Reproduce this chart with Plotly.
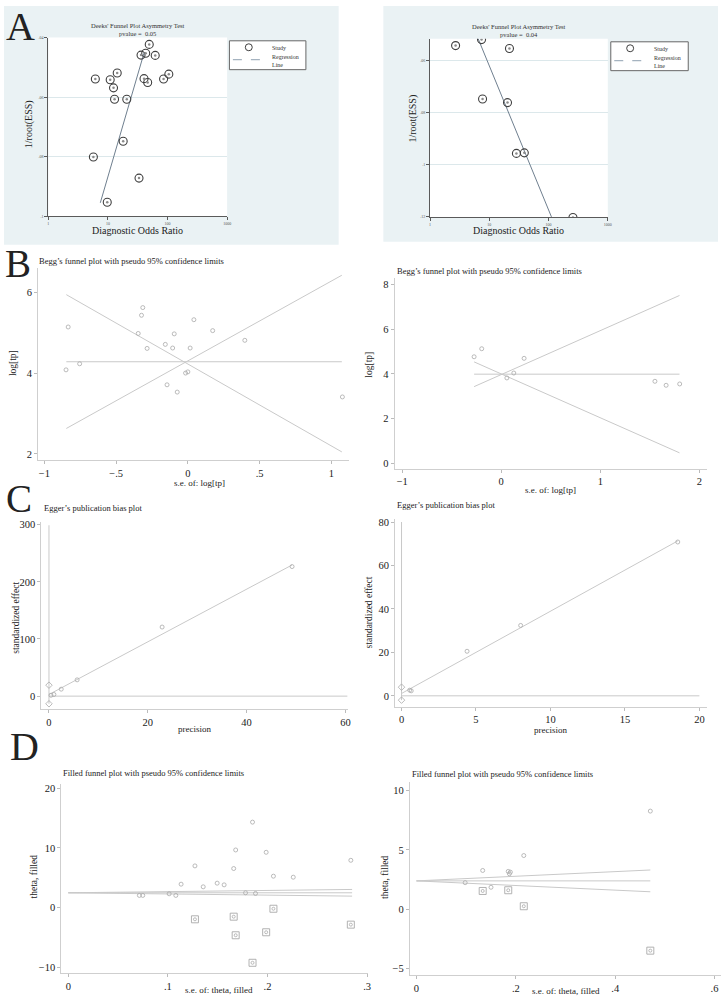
import plotly.graph_objects as go

W, H = 728, 1000
SERIF = "Liberation Serif, Times New Roman, serif"

# ---------------- DATA ----------------
# A left: Deeks' funnel plot (DOR vs 1/root(ESS))
a1_dor = [49.3, 43.0, 35.9, 62.1, 14.3, 105, 6.14, 10.9, 40.3, 46.4, 85.8, 12.4, 12.9, 20.7, 18.0, 5.69, 33.2, 9.73]
a1_ess = [.0423, .0453, .0459, .0460, .0519, .0523, .0539, .0542, .0538, .0551, .0539, .0569, .0607, .0607, .0748, .0801, .0872, .0953]
a1_reg_dor = [7.44, 40.7]
a1_reg_ess = [.0955, .0449]
a1_pvalue = "0.05"

# A right
a2_dor = [2.7, 7.4, 21.9, 7.7, 20.3, 28.7, 39.0, 258]
a2_ess = [.0542, .0519, .0553, .0747, .0761, .0956, .0954, .1202]
a2_reg_dor = [6.5, 112]
a2_reg_ess = [.0516, .120]
a2_pvalue = "0.04"

a_xticks = [1, 10, 100, 1000]
a_xticktext = ["1", "10", "100", "1000"]
a1_yticks = [.04, .06, .08, .1]
a1_yticktext = [".04", ".06", ".08", ".1"]
a2_yticks = [.06, .08, .1, .12]
a2_yticktext = [".06", ".08", ".1", ".12"]

# B left: Begg's funnel plot
b1_se = [-0.849, -0.834, -0.754, -0.346, -0.323, -0.314, -0.284, -0.157, -0.106, -0.095,
         -0.145, -0.074, -0.016, 0.0, 0.016, 0.042, 0.173, 0.397, 1.077]
b1_log = [4.08, 5.14, 4.23, 4.98, 5.43, 5.62, 4.61, 4.71, 4.62, 4.97,
          3.71, 3.53, 4.00, 4.03, 4.62, 5.32, 5.05, 4.81, 3.41]
b1_line_se = [-0.847, 1.073]
b1_center = [4.28, 4.28]
b1_upper = [2.63, 6.42]
b1_lower = [5.94, 2.05]

# B right
b2_se = [-0.274, -0.197, 0.057, 0.127, 0.231, 1.552, 1.665, 1.802]
b2_log = [4.77, 5.13, 3.82, 4.04, 4.70, 3.67, 3.49, 3.55]
b2_line_se = [-0.274, 1.80]
b2_center = [3.99, 3.99]
b2_upper = [3.43, 7.52]
b2_lower = [4.54, 0.46]

b1_xticks = [-1, -0.5, 0, 0.5, 1]
b1_xticktext = ["\u22121", "\u2212.5", "0", ".5", "1"]
b1_yticks = [2, 4, 6]
b2_xticks = [-1, 0, 1, 2]
b2_xticktext = ["\u22121", "0", "1", "2"]
b2_yticks = [0, 2, 4, 6, 8]

# C left: Egger's publication bias plot
c1_prec = [49.2, 22.9, 5.7, 2.48, 1.0, 0.4]
c1_std = [226.7, 120.9, 28.5, 12.2, 2.9, 1.5]
c1_fit_x = [0, 49.2]
c1_fit_y = [2.9, 229.5]
c1_ci = [19.2, -13.4]
c1_ci_top = 299
c1_zero_x = [0, 60.4]

# C right
c2_prec = [18.55, 8.0, 4.4, 0.65, 0.55]
c2_std = [70.8, 32.4, 20.5, 2.3, 2.6]
c2_fit_x = [0, 18.55]
c2_fit_y = [1.07, 71.3]
c2_ci = [3.97, -2.0]
c2_ci_top = 80
c2_zero_x = [0, 20]

c1_xticks = [0, 20, 40, 60]
c1_yticks = [0, 100, 200, 300]
c2_xticks = [0, 5, 10, 15, 20]
c2_yticks = [0, 20, 40, 60, 80]

# D left: filled funnel plot
d1_obs_se = [0.1272, 0.1133, 0.1355, 0.1495, 0.1565, 0.1661, 0.1681, 0.185, 0.1987, 0.206,
             0.2259, 0.2837, 0.178, 0.188, 0.0714, 0.0748, 0.1013, 0.108]
d1_obs_theta = [7.0, 3.94, 3.5, 4.11, 3.83, 6.56, 9.67, 14.33, 9.28, 5.28,
                5.11, 7.94, 2.5, 2.39, 2.06, 2.06, 2.33, 2.06]
d1_fill_se = [0.1272, 0.1661, 0.1681, 0.185, 0.1987, 0.206, 0.2837]
d1_fill_theta = [-1.94, -1.5, -4.61, -9.22, -4.11, -0.17, -2.83]
d1_line_se = [0, 0.285]
d1_center = [2.5, 2.5]
d1_upper = [2.5, 3.06]
d1_lower = [2.5, 1.94]

# D right
d2_obs_se = [0.1333, 0.098, 0.15, 0.1847, 0.189, 0.187, 0.216, 0.4707]
d2_obs_theta = [3.27, 2.24, 1.85, 3.19, 3.13, 2.99, 4.53, 8.28]
d2_fill_se = [0.1333, 0.1847, 0.216, 0.4707]
d2_fill_theta = [1.54, 1.60, 0.25, -3.50]
d2_line_se = [0, 0.4707]
d2_center = [2.39, 2.39]
d2_upper = [2.39, 3.31]
d2_lower = [2.39, 1.47]

d1_xticks = [0, 0.1, 0.2, 0.3]
d1_xticktext = ["0", ".1", ".2", ".3"]
d1_yticks = [-10, 0, 10, 20]
d1_yticktext = ["\u221210", "0", "10", "20"]
d2_xticks = [0, 0.2, 0.4, 0.6]
d2_xticktext = ["0", ".2", ".4", ".6"]
d2_yticks = [-5, 0, 5, 10]
d2_yticktext = ["\u22125", "0", "5", "10"]

# ---------------- STYLE ----------------
BG_A = "#EAF2F4"
A_AXIS = "#5a5a5a"
A_GRID = "#DCE8EB"
A_MARK = "#3f3f3f"
A_LINE = "#6f7f8f"
G_LINE = "#C9C9C9"
G_MARK = "#A9A9A9"
G_AXIS = "#CFCFCF"
TXT = "#222222"


def xd(p0, p1):
    return [p0 / W, p1 / W]


def yd(p0, p1):
    return [1 - p1 / H, 1 - p0 / H]


def px(x):
    return x / W


def py(y):
    return 1 - y / H


fig = go.Figure()
shapes = []
ann = []

# ---- panel geometry (pixels) ----
geo = {
    1: dict(x=(47.7, 227.7), y=(34.7, 214.3)),   # A left
    2: dict(x=(432, 611), y=(36, 215)),          # A right
    3: dict(x=(37.3, 350.7), y=(266.7, 459.3)),  # B left
    4: dict(x=(396.3, 710.7), y=(276.7, 468)),   # B right
    5: dict(x=(40.7, 349.3), y=(522, 710)),      # C left
    6: dict(x=(396.7, 710.7), y=(519, 707.3)),   # C right
    7: dict(x=(60.7, 370), y=(785, 975)),        # D left
    8: dict(x=(411.7, 725), y=(783, 977.3)),     # D right
}

# backgrounds for A panels
for (x0, x1, y0, y1) in [(3, 340, 3, 243), (385, 722, 3, 240)]:
    shapes.append(dict(type="rect", xref="paper", yref="paper", x0=px(x0), x1=px(x1),
                       y0=py(y1), y1=py(y0), fillcolor=BG_A, line=dict(width=0), layer="below"))
for k in (1, 2):
    g = geo[k]
    shapes.append(dict(type="rect", xref="paper", yref="paper", x0=px(g["x"][0]), x1=px(g["x"][1]),
                       y0=py(g["y"][1]), y1=py(g["y"][0]), fillcolor="white", line=dict(width=0),
                       layer="below"))


def axname(k, ax):
    return ax if k == 1 else f"{ax}{k}"


def add(tr, k):
    tr.update(xaxis=axname(k, "x"), yaxis=axname(k, "y"), showlegend=False, hoverinfo="skip")
    fig.add_trace(tr)


# ---------------- A panels ----------------
for k, dor, ess, rdor, ress in [(1, a1_dor, a1_ess, a1_reg_dor, a1_reg_ess),
                                (2, a2_dor, a2_ess, a2_reg_dor, a2_reg_ess)]:
    add(go.Scatter(x=rdor, y=ress, mode="lines", line=dict(color=A_LINE, width=1)), k)
    add(go.Scatter(x=dor, y=ess, mode="markers",
                   marker=dict(symbol="circle-open", size=8, color=A_MARK, line=dict(width=1.1))), k)
    add(go.Scatter(x=dor, y=ess, mode="markers",
                   marker=dict(symbol="circle", size=2.5, color="#8a8a8a")), k)

# ---------------- B panels ----------------
for k, se, lg, lx, c, u, lo in [(3, b1_se, b1_log, b1_line_se, b1_center, b1_upper, b1_lower),
                                (4, b2_se, b2_log, b2_line_se, b2_center, b2_upper, b2_lower)]:
    for yy in (c, u, lo):
        add(go.Scatter(x=lx, y=yy, mode="lines", line=dict(color=G_LINE, width=1)), k)
    add(go.Scatter(x=se, y=lg, mode="markers",
                   marker=dict(symbol="circle-open", size=4, color=G_MARK, line=dict(width=0.8))), k)

# ---------------- C panels ----------------
for k, pr, st, fx, fy, ci, top, zx in [(5, c1_prec, c1_std, c1_fit_x, c1_fit_y, c1_ci, c1_ci_top, c1_zero_x),
                                       (6, c2_prec, c2_std, c2_fit_x, c2_fit_y, c2_ci, c2_ci_top, c2_zero_x)]:
    add(go.Scatter(x=[0, 0], y=[top, ci[1]], mode="lines", line=dict(color=G_LINE, width=1)), k)
    add(go.Scatter(x=zx, y=[0, 0], mode="lines", line=dict(color=G_LINE, width=1)), k)
    add(go.Scatter(x=fx, y=fy, mode="lines", line=dict(color=G_LINE, width=1)), k)
    add(go.Scatter(x=[0, 0], y=ci, mode="markers",
                   marker=dict(symbol="diamond-open", size=5, color=G_MARK, line=dict(width=0.8))), k)
    add(go.Scatter(x=pr, y=st, mode="markers",
                   marker=dict(symbol="circle-open", size=4, color=G_MARK, line=dict(width=0.8))), k)

# ---------------- D panels ----------------
for k, ose, oth, fse, fth, lx, c, u, lo in [
        (7, d1_obs_se, d1_obs_theta, d1_fill_se, d1_fill_theta, d1_line_se, d1_center, d1_upper, d1_lower),
        (8, d2_obs_se, d2_obs_theta, d2_fill_se, d2_fill_theta, d2_line_se, d2_center, d2_upper, d2_lower)]:
    for yy in (c, u, lo):
        add(go.Scatter(x=lx, y=yy, mode="lines", line=dict(color=G_LINE, width=1)), k)
    add(go.Scatter(x=ose, y=oth, mode="markers",
                   marker=dict(symbol="circle-open", size=4, color=G_MARK, line=dict(width=0.8))), k)
    add(go.Scatter(x=fse, y=fth, mode="markers",
                   marker=dict(symbol="square-open", size=7, color=G_MARK, line=dict(width=0.9))), k)
    add(go.Scatter(x=fse, y=fth, mode="markers",
                   marker=dict(symbol="circle-open", size=3, color=G_MARK, line=dict(width=0.8))), k)

# ---------------- axes ----------------
lay = {}


def set_axes(k, xr, yr, xt, xtt, yt, ytt, kind="G", xlog=False):
    g = geo[k]
    if kind == "A":
        common = dict(showline=True, linecolor=A_AXIS, linewidth=1, ticks="outside", ticklen=3,
                      tickcolor=A_AXIS, tickfont=dict(family=SERIF, size=4, color="#555"),
                      zeroline=False)
    else:
        common = dict(showline=True, linecolor=G_AXIS, linewidth=1, ticks="outside", ticklen=3,
                      tickcolor="#BBBBBB", tickfont=dict(family=SERIF, size=10.5, color=TXT),
                      zeroline=False, showgrid=False)
    xa = dict(common, domain=xd(*g["x"]), range=xr, tickvals=xt, ticktext=xtt,
              anchor=axname(k, "y"), showgrid=False)
    if xlog:
        xa["type"] = "log"
    ya = dict(common, domain=yd(*g["y"]), range=yr, tickvals=yt, ticktext=ytt,
              anchor=axname(k, "x"))
    if kind == "A":
        ya.update(showgrid=True, gridcolor=A_GRID, gridwidth=1)
    lay[("xaxis" if k == 1 else f"xaxis{k}")] = xa
    lay[("yaxis" if k == 1 else f"yaxis{k}")] = ya


set_axes(1, [0, 3], [0.1, 0.04], a_xticks, a_xticktext, a1_yticks, a1_yticktext, "A", True)
set_axes(2, [0, 3], [0.12, 0.0516], a_xticks, a_xticktext, a2_yticks, a2_yticktext, "A", True)
set_axes(3, [-1.044, 1.125], [1.85, 6.59], b1_xticks, b1_xticktext, b1_yticks, [str(v) for v in b1_yticks])
set_axes(4, [-1.077, 2.076], [-0.25, 8.29], b2_xticks, b2_xticktext, b2_yticks, [str(v) for v in b2_yticks])
set_axes(5, [-1.53, 60.5], [-23.3, 304], c1_xticks, [str(v) for v in c1_xticks], c1_yticks, [str(v) for v in c1_yticks])
set_axes(6, [-0.44, 20.5], [-5.04, 81.2], c2_xticks, [str(v) for v in c2_xticks], c2_yticks, [str(v) for v in c2_yticks])
set_axes(7, [-0.007, 0.3014], [-10.95, 20.7], d1_xticks, d1_xticktext, d1_yticks, d1_yticktext)
set_axes(8, [-0.0133, 0.613], [-5.59, 10.73], d2_xticks, d2_xticktext, d2_yticks, d2_yticktext)


def text(x, y, s, size, xanchor="center", angle=0, color=TXT, yanchor="middle", align="center"):
    ann.append(dict(x=px(x), y=py(y), xref="paper", yref="paper", text=s, showarrow=False,
                    xanchor=xanchor, yanchor=yanchor, textangle=angle, align=align,
                    font=dict(family=SERIF, size=size, color=color)))


# panel letters
text(3, 24, "A", 40, "left")
text(2, 262, "B", 39, "left")
text(3, 498, "C", 39, "left")
text(7, 747, "D", 40, "left")

# A titles / axis titles
text(137.7, 26.5, "Deeks' Funnel Plot Asymmetry Test<br>pvalue =  " + a1_pvalue, 6.5, color="#333")
text(521.5, 27.5, "Deeks' Funnel Plot Asymmetry Test<br>pvalue =  " + a2_pvalue, 6.5, color="#333")
text(137.7, 229, "Diagnostic Odds Ratio", 10)
text(521.5, 229, "Diagnostic Odds Ratio", 10)
text(29, 122, "1/root(ESS)", 10, angle=-90)
text(415, 116, "1/root(ESS)", 10, angle=-90)

# A legends
for (bx0, bx1, by0, by1) in [(230, 307, 38, 67), (614, 692, 39, 68)]:
    shapes.append(dict(type="rect", xref="paper", yref="paper", x0=px(bx0), x1=px(bx1),
                       y0=py(by1), y1=py(by0), fillcolor="white",
                       line=dict(color="#666", width=1)))
    cx = bx0 + 19.5
    shapes.append(dict(type="circle", xref="paper", yref="paper", x0=px(cx - 3.5), x1=px(cx + 3.5),
                       y0=py(by0 + 10), y1=py(by0 + 3), line=dict(color=A_MARK, width=1)))
    shapes.append(dict(type="line", xref="paper", yref="paper", x0=px(bx0 + 3.5), x1=px(bx0 + 34),
                       y0=py(by0 + 19), y1=py(by0 + 19), line=dict(color="#8fa0b0", width=1, dash="dash")))
    text(bx0 + 41, by0 + 7, "Study", 6, "left", color="#333")
    text(bx0 + 41, by0 + 20, "Regression<br>Line", 6, "left", color="#333", align="left")

# B titles
text(36, 259, "Begg\u2019s funnel plot with pseudo 95% confidence limits", 8.5, "left")
text(396.7, 269, "Begg\u2019s funnel plot with pseudo 95% confidence limits", 8.5, "left")
text(200, 482, "s.e. of: log[tp]", 9)
text(553.5, 489, "s.e. of: log[tp]", 9)
text(12, 362, "log[tp]", 9.5, angle=-90)
text(371, 363, "log[tp]", 9.5, angle=-90)

# C titles
text(41, 508, "Egger\u2019s publication bias plot", 8.5, "left")
text(396.7, 505, "Egger\u2019s publication bias plot", 8.5, "left")
text(195, 730, "precision", 9)
text(553.5, 730.5, "precision", 9)
text(15, 618, "standardized effect", 9.5, angle=-90)
text(370, 612, "standardized effect", 9.5, angle=-90)

# D titles
text(60, 774, "Filled funnel plot with pseudo 95% confidence limits", 8.5, "left")
text(412, 775, "Filled funnel plot with pseudo 95% confidence limits", 8.5, "left")
text(220, 992, "s.e. of: theta, filled", 9)
text(569, 993, "s.e. of: theta, filled", 9)
text(33, 878, "theta, filled", 9.5, angle=-90)
text(386, 878, "theta, filled", 9.5, angle=-90)

fig.update_layout(width=W, height=H, margin=dict(l=0, r=0, t=0, b=0),
                  paper_bgcolor="white", plot_bgcolor="white",
                  shapes=shapes, annotations=ann, showlegend=False, **lay)

fig.write_html("out.html", config={"displayModeBar": False},
               post_script="document.body.style.margin='0px';document.body.style.padding='0px';")
